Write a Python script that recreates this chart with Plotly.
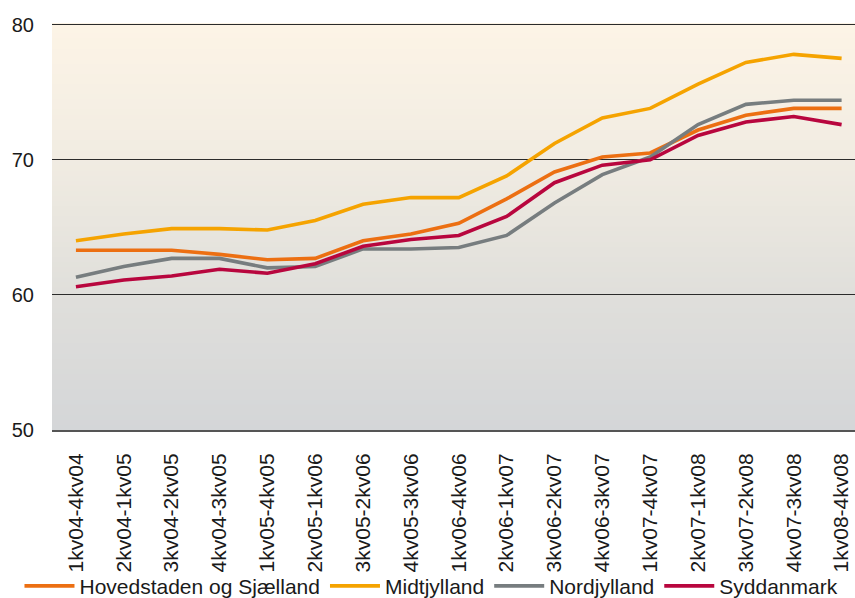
import plotly.graph_objects as go

categories = ["1kv04-4kv04", "2kv04-1kv05", "3kv04-2kv05", "4kv04-3kv05", "1kv05-4kv05",
              "2kv05-1kv06", "3kv05-2kv06", "4kv05-3kv06", "1kv06-4kv06", "2kv06-1kv07",
              "3kv06-2kv07", "4kv06-3kv07", "1kv07-4kv07", "2kv07-1kv08", "3kv07-2kv08",
              "4kv07-3kv08", "1kv08-4kv08"]

hovedstaden = [63.3, 63.3, 63.3, 63.0, 62.6, 62.7, 64.0, 64.5, 65.3, 67.1, 69.1, 70.2, 70.5,
               72.2, 73.3, 73.8, 73.8]
midtjylland = [64.0, 64.5, 64.9, 64.9, 64.8, 65.5, 66.7, 67.2, 67.2, 68.8, 71.2, 73.1, 73.8,
               75.6, 77.2, 77.8, 77.5]
nordjylland = [61.3, 62.1, 62.7, 62.7, 62.0, 62.1, 63.4, 63.4, 63.5, 64.4, 66.8, 68.9, 70.2,
               72.6, 74.1, 74.4, 74.4]
syddanmark = [60.6, 61.1, 61.4, 61.9, 61.6, 62.3, 63.6, 64.1, 64.4, 65.8, 68.3, 69.6, 70.0,
              71.8, 72.8, 73.2, 72.6]

series = [
    ("Hovedstaden og Sjælland", hovedstaden, "#EC6F12"),
    ("Midtjylland", midtjylland, "#F5A300"),
    ("Nordjylland", nordjylland, "#777D7F"),
    ("Syddanmark", syddanmark, "#B8063E"),
]

y_ticks = [50, 60, 70, 80]

fig = go.Figure()
for name, vals, color in series:
    fig.add_trace(go.Scatter(x=categories, y=vals, name=name, mode="lines",
                             line=dict(color=color, width=3.6)))

# vertical gradient background for the plot area
stops = [(0.0, (212, 214, 216)), (0.34, (224, 223, 219)), (0.67, (241, 236, 226)), (1.0, (253, 244, 230))]
def interp(t):
    for (t0, c0), (t1, c1) in zip(stops[:-1], stops[1:]):
        if t0 <= t <= t1:
            f = (t - t0) / (t1 - t0)
            return tuple(round(a + (b - a) * f) for a, b in zip(c0, c1))
    return stops[-1][1]

n = 80
shapes = []
for i in range(n):
    y0 = i / n
    y1 = (i + 1) / n + 0.002
    c = interp((i + 0.5) / n)
    shapes.append(dict(type="rect", xref="x domain", yref="y domain", x0=0, x1=1, y0=y0, y1=min(y1, 1),
                       fillcolor="rgb(%d,%d,%d)" % c, line=dict(width=0), layer="below"))

fig.update_layout(
    width=855, height=598,
    margin=dict(l=52, r=0, t=23, b=168, autoexpand=False),
    paper_bgcolor="white",
    plot_bgcolor="rgba(0,0,0,0)",
    shapes=shapes,
    font=dict(family="Liberation Sans, Arial, sans-serif", color="#1a1a1a"),
    showlegend=True,
    legend=dict(orientation="h", x=-0.0405, xanchor="left", y=-0.3335, yanchor="top",
                font=dict(size=21, color="#1a1a1a"), itemwidth=50,
                bgcolor="rgba(0,0,0,0)", tracegroupgap=0),
)
fig.update_xaxes(type="category", range=[-0.5, 16.28], tickangle=-90, tickfont=dict(size=21),
                 showgrid=False, showline=True, linecolor="#555555", linewidth=2,
                 ticks="", ticklabelstandoff=13, fixedrange=True, automargin=False)
fig.update_yaxes(range=[50, 80.12], tickvals=y_ticks, tickfont=dict(size=20), showgrid=True,
                 gridcolor="#2b2b2b", gridwidth=1.3, zeroline=False, showline=False,
                 ticks="", ticklabelstandoff=17, fixedrange=True, automargin=False)

fig.write_html("out.html", config={"displayModeBar": False},
               post_script="document.body.style.margin='0';document.body.style.overflow='hidden';")
